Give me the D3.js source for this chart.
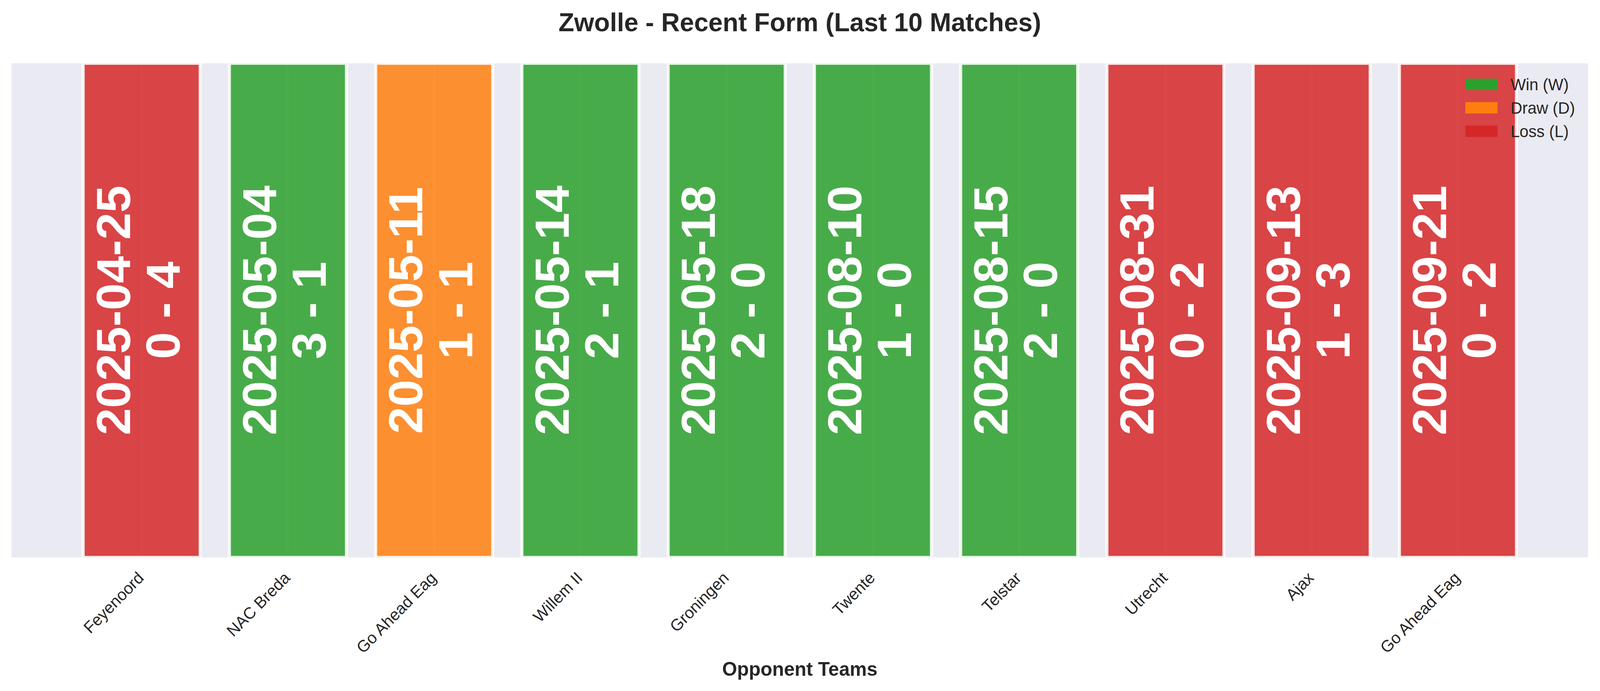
<!DOCTYPE html>
<html>
<head>
<meta charset="utf-8">
<script src="https://cdn.jsdelivr.net/npm/d3@7"></script>
<style>
  html, body { margin: 0; padding: 0; background: #fff; overflow: hidden; }
  svg { display: block; width: 100vw; height: 100vh; font-family: "Liberation Sans", Arial, sans-serif; }
</style>
</head>
<body>
<svg id="chart" viewBox="0 0 4170 1769" preserveAspectRatio="none"></svg>
<script>
// data
var opponents = ["Feyenoord", "NAC Breda", "Go Ahead Eag", "Willem II", "Groningen",
                 "Twente", "Telstar", "Utrecht", "Ajax", "Go Ahead Eag"];
var dates = ["2025-04-25", "2025-05-04", "2025-05-11", "2025-05-14", "2025-05-18",
             "2025-08-10", "2025-08-15", "2025-08-31", "2025-09-13", "2025-09-21"];
var scores = ["0 - 4", "3 - 1", "1 - 1", "2 - 1", "2 - 0",
              "1 - 0", "2 - 0", "0 - 2", "1 - 3", "0 - 2"];
var results = ["L", "W", "D", "W", "W", "W", "W", "L", "L", "L"];

var resultKeys = ["W", "D", "L"];
var resultLabels = ["Win (W)", "Draw (D)", "Loss (L)"];
var resultColors = ["#2ca02c", "#ff7f0e", "#d62728"];

// drawing is done in a fixed 4170 x 1769 box, the viewBox scales it to the window
var W = 4170, H = 1769;
var svg = d3.select("#chart"),
    margin = {top: 162, right: 31, bottom: 342, left: 30},
    width = W - margin.left - margin.right,
    height = H - margin.top - margin.bottom;

var ink = "#262626";
var barW = 0.8;
var n = opponents.length;

// same padding matplotlib puts round bars (5% margin)
var lo = -barW / 2, hi = n - 1 + barW / 2, pad = (hi - lo) * 0.05;
var x = d3.scaleLinear().domain([lo - pad, hi + pad]).range([0, width]);
var y = d3.scaleLinear().domain([0, 1]).range([height, 0]);
var color = d3.scaleOrdinal().domain(resultKeys).range(resultColors);

svg.append("rect").attr("width", W).attr("height", H).attr("fill", "#fff");

var g = svg.append("g").attr("transform", "translate(" + margin.left + "," + margin.top + ")");

svg.append("defs").append("clipPath").attr("id", "plotClip")
  .append("rect").attr("width", width).attr("height", height);

g.append("rect")
  .attr("width", width)
  .attr("height", height)
  .attr("fill", "#eaeaf2");

var idx = d3.range(n);

// vertical grid at each tick
g.append("g").selectAll("line")
  .data(idx)
  .join("line")
  .attr("x1", function(d) { return x(d); })
  .attr("x2", function(d) { return x(d); })
  .attr("y1", 0)
  .attr("y2", height)
  .attr("stroke", "#fff")
  .attr("stroke-width", 4);

var bars = g.append("g").attr("clip-path", "url(#plotClip)");

bars.selectAll("rect")
  .data(idx)
  .join("rect")
  .attr("x", function(d) { return x(d - barW / 2); })
  .attr("width", function(d) { return x(d + barW / 2) - x(d - barW / 2); })
  .attr("y", y(1))
  .attr("height", y(0) - y(1))
  .attr("fill", function(d) { return color(results[d]); })
  .attr("fill-opacity", 0.85)
  .attr("stroke", "#fff")
  .attr("stroke-opacity", 0.85)
  .attr("stroke-width", 8);

// date + score written up the bar
var fs = 125;
var labels = g.append("g")
  .attr("fill", "#fff")
  .attr("font-weight", "bold")
  .attr("font-size", fs)
  .attr("text-anchor", "middle");

labels.selectAll("text")
  .data(idx)
  .join("text")
  .attr("transform", function(d) { return "translate(" + x(d) + "," + y(0.5) + ") rotate(-90)"; })
  .each(function(d) {
    var t = d3.select(this);
    t.append("tspan").attr("x", 0).attr("y", -0.245 * fs).text(dates[d]);
    t.append("tspan").attr("x", 0).attr("y", 0.79 * fs).text(scores[d]);
  });

// x tick labels, rotated 45
g.append("g")
  .attr("font-size", 42)
  .attr("fill", ink)
  .attr("text-anchor", "end")
  .selectAll("text")
  .data(idx)
  .join("text")
  .attr("transform", function(d) { return "translate(" + (x(d) + 8) + "," + (height + 55) + ") rotate(-45)"; })
  .text(function(d) { return opponents[d]; });

// x axis title
svg.append("text")
  .attr("x", margin.left + width / 2)
  .attr("y", 1730)
  .attr("text-anchor", "middle")
  .attr("font-size", 50)
  .attr("font-weight", "bold")
  .attr("fill", ink)
  .text("Opponent Teams");

// chart title
svg.append("text")
  .attr("x", margin.left + width / 2)
  .attr("y", 80)
  .attr("text-anchor", "middle")
  .attr("font-size", 67)
  .attr("font-weight", "bold")
  .attr("fill", ink)
  .text("Zwolle - Recent Form (Last 10 Matches)");

// legend, top right, no frame
var legend = svg.append("g").attr("transform", "translate(3819,216)");
var row = legend.selectAll("g")
  .data(resultKeys)
  .join("g")
  .attr("transform", function(d, i) { return "translate(0," + (i * 60) + ")"; });

row.append("rect")
  .attr("x", 0)
  .attr("y", -14.5)
  .attr("width", 84)
  .attr("height", 29)
  .attr("fill", function(d) { return color(d); });

row.append("text")
  .attr("x", 118)
  .attr("y", 0)
  .attr("dy", "0.35em")
  .attr("font-size", 42)
  .attr("fill", ink)
  .text(function(d, i) { return resultLabels[i]; });
</script>
</body>
</html>
